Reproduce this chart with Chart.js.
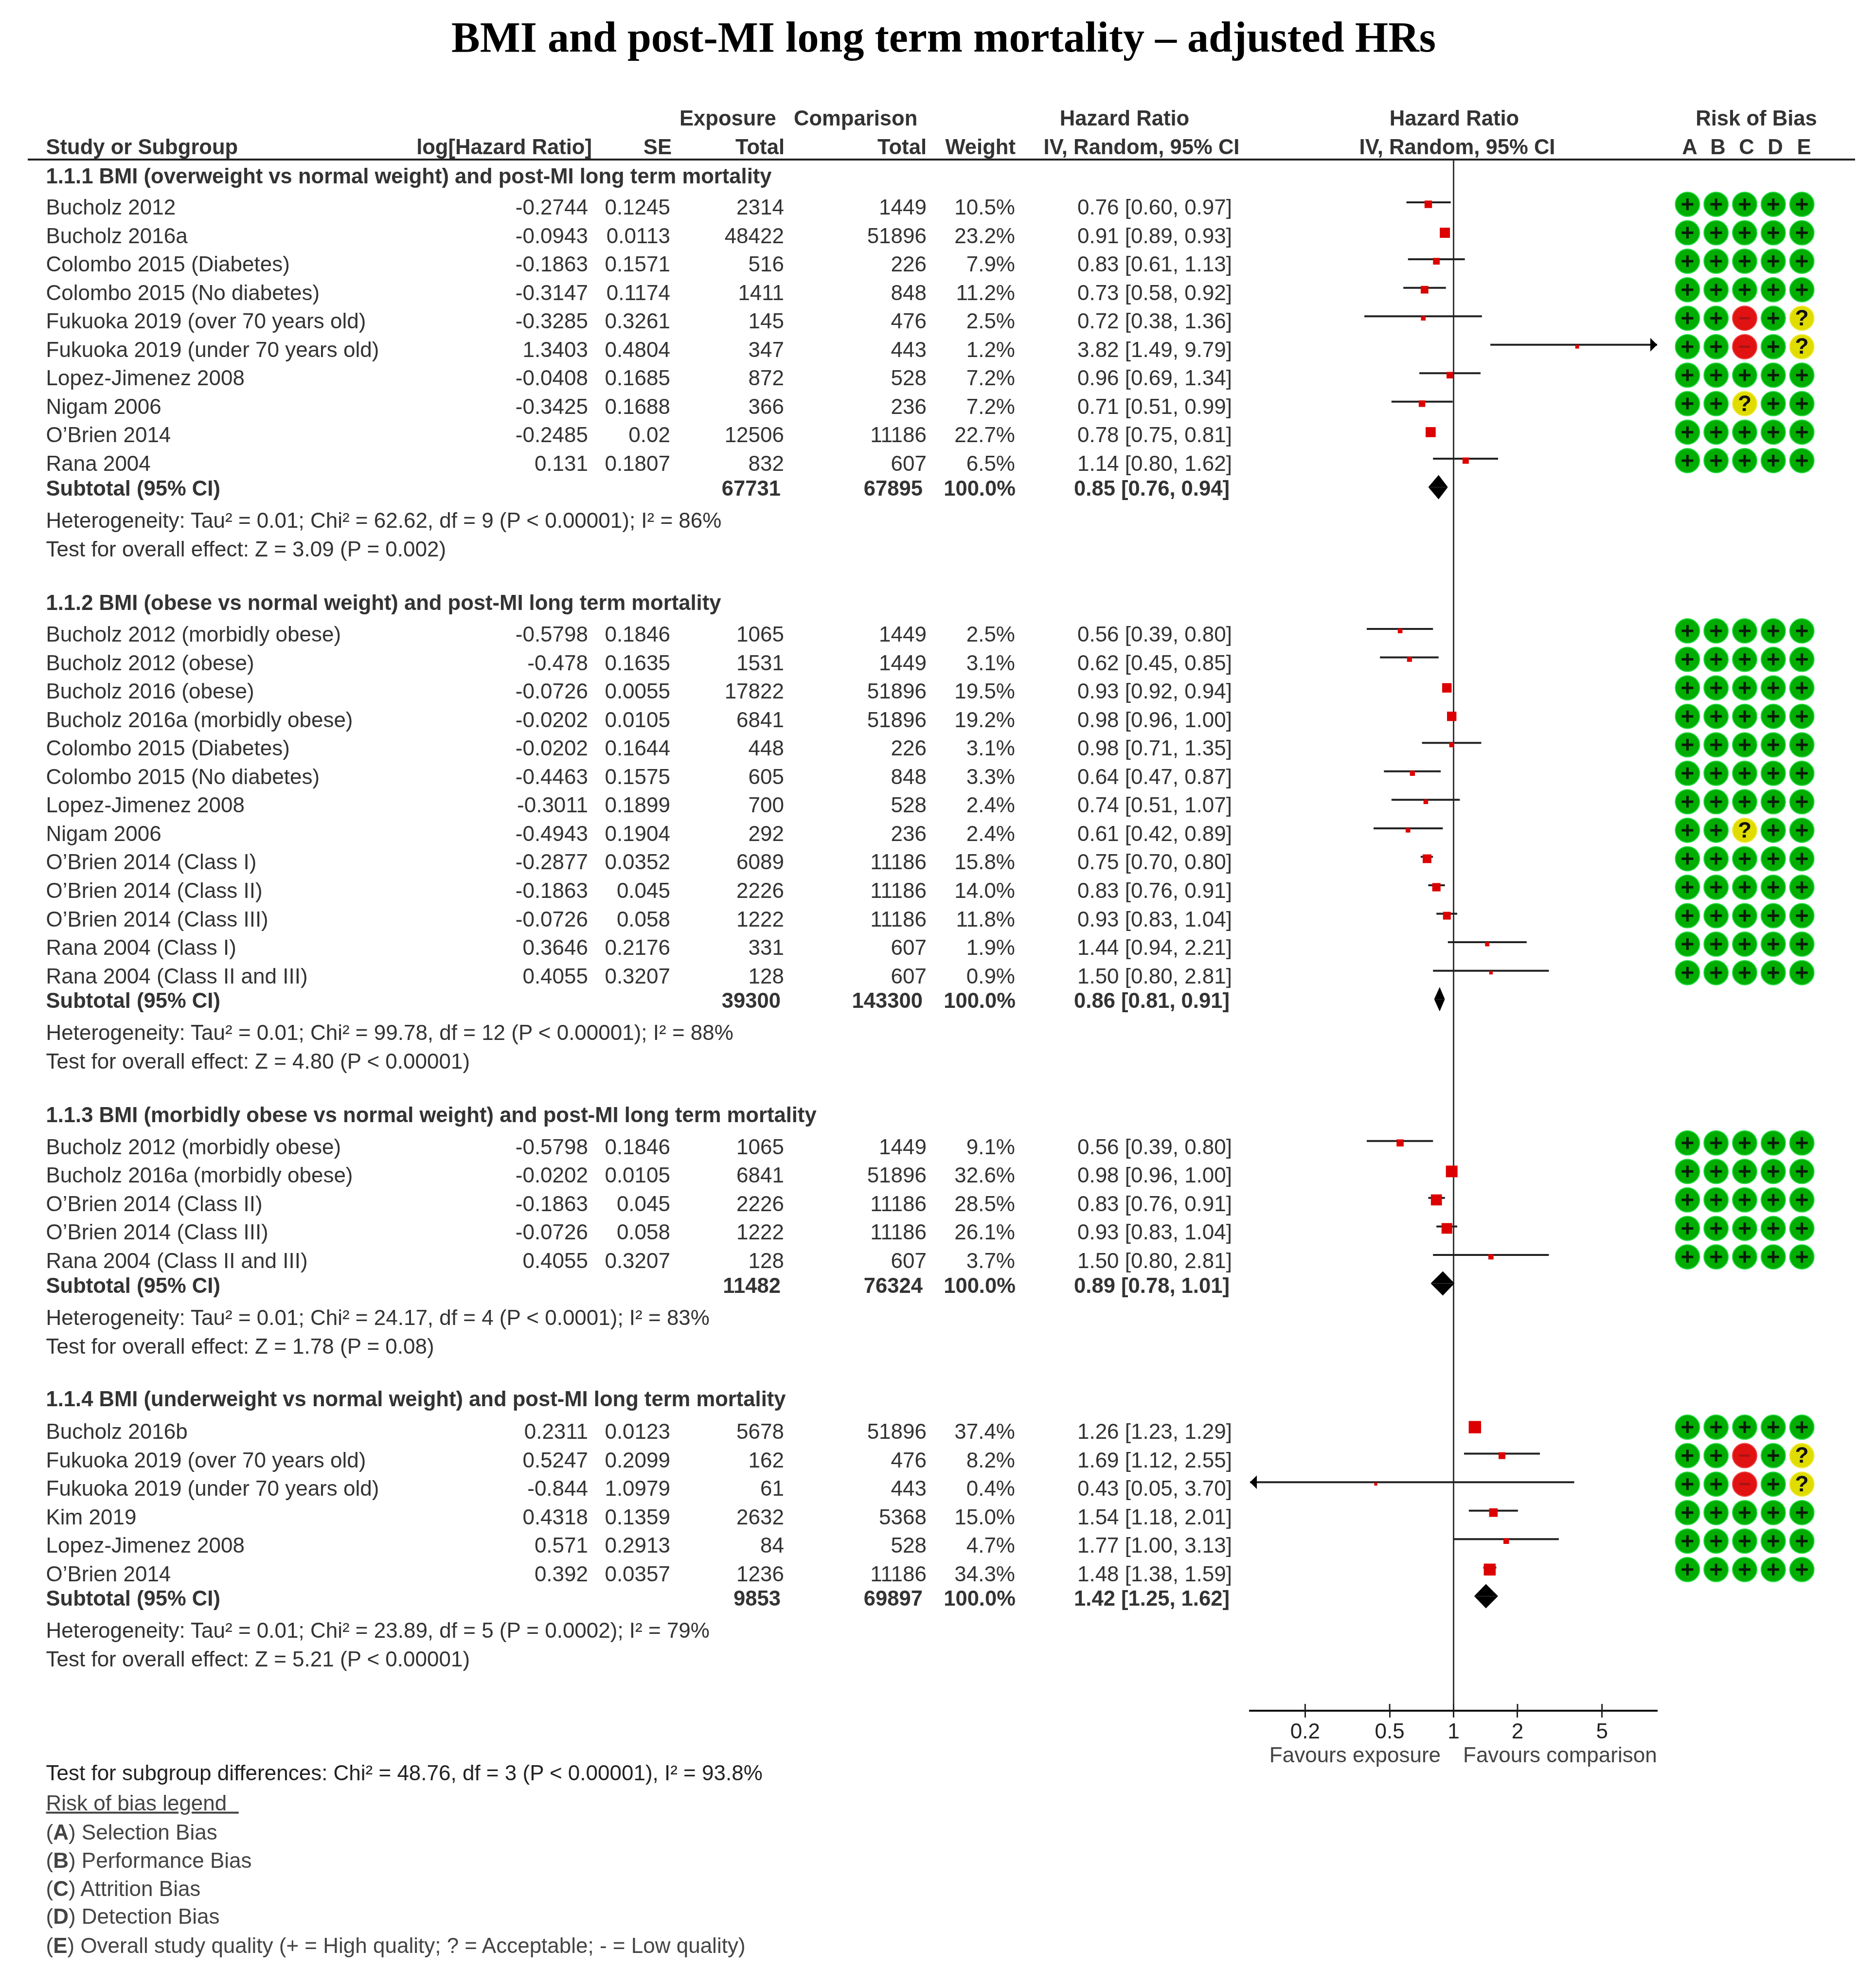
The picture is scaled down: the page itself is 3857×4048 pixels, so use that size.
<!DOCTYPE html>
<html>
<head>
<meta charset="utf-8">
<title>BMI and post-MI long term mortality</title>
<script src="https://cdn.jsdelivr.net/npm/chart.js@4/dist/chart.umd.min.js"></script>
<style>
    html, body { margin: 0; padding: 0; background: #fff; }
    #page { position: relative; width: 3857px; height: 4048px; overflow: hidden; font-family: "Liberation Sans", Arial, sans-serif; }
    #forest, #rob { position: absolute; display: block; }
    #forest { left: 0; top: 0; }
    #rob { left: 3440px; top: 328px; }
    .t { position: absolute; white-space: pre; transform: translateY(-50%); font-size: 44px; line-height: 1.2; color: #333; }
    .b { font-weight: bold; font-size: 43.6px; }
</style>
</head>
<body>
<div id="page">
    <canvas id="forest" width="3857" height="4048"></canvas>
    <canvas id="rob" width="294" height="3189"></canvas>
</div>
<script>
// table data, one list per column, studies run through the four subgroups in order
const studies = [
    'Bucholz 2012', 'Bucholz 2016a', 'Colombo 2015 (Diabetes)', 'Colombo 2015 (No diabetes)', 'Fukuoka 2019 (over 70 years old)',
    'Fukuoka 2019 (under 70 years old)', 'Lopez-Jimenez 2008', 'Nigam 2006', 'O’Brien 2014', 'Rana 2004',
    'Bucholz 2012 (morbidly obese)', 'Bucholz 2012 (obese)', 'Bucholz 2016 (obese)', 'Bucholz 2016a (morbidly obese)', 'Colombo 2015 (Diabetes)',
    'Colombo 2015 (No diabetes)', 'Lopez-Jimenez 2008', 'Nigam 2006', 'O’Brien 2014 (Class I)', 'O’Brien 2014 (Class II)',
    'O’Brien 2014 (Class III)', 'Rana 2004 (Class I)', 'Rana 2004 (Class II and III)',
    'Bucholz 2012 (morbidly obese)', 'Bucholz 2016a (morbidly obese)', 'O’Brien 2014 (Class II)', 'O’Brien 2014 (Class III)', 'Rana 2004 (Class II and III)',
    'Bucholz 2016b', 'Fukuoka 2019 (over 70 years old)', 'Fukuoka 2019 (under 70 years old)', 'Kim 2019', 'Lopez-Jimenez 2008', 'O’Brien 2014'
];
const logHr = [
    -0.2744, -0.0943, -0.1863, -0.3147, -0.3285, 1.3403, -0.0408, -0.3425, -0.2485, 0.131,
    -0.5798, -0.478, -0.0726, -0.0202, -0.0202, -0.4463, -0.3011, -0.4943, -0.2877, -0.1863, -0.0726, 0.3646, 0.4055,
    -0.5798, -0.0202, -0.1863, -0.0726, 0.4055,
    0.2311, 0.5247, -0.844, 0.4318, 0.571, 0.392
];
const se = [
    0.1245, 0.0113, 0.1571, 0.1174, 0.3261, 0.4804, 0.1685, 0.1688, 0.02, 0.1807,
    0.1846, 0.1635, 0.0055, 0.0105, 0.1644, 0.1575, 0.1899, 0.1904, 0.0352, 0.045, 0.058, 0.2176, 0.3207,
    0.1846, 0.0105, 0.045, 0.058, 0.3207,
    0.0123, 0.2099, 1.0979, 0.1359, 0.2913, 0.0357
];
const exposureTotal = [
    2314, 48422, 516, 1411, 145, 347, 872, 366, 12506, 832,
    1065, 1531, 17822, 6841, 448, 605, 700, 292, 6089, 2226, 1222, 331, 128,
    1065, 6841, 2226, 1222, 128,
    5678, 162, 61, 2632, 84, 1236
];
const comparisonTotal = [
    1449, 51896, 226, 848, 476, 443, 528, 236, 11186, 607,
    1449, 1449, 51896, 51896, 226, 848, 528, 236, 11186, 11186, 11186, 607, 607,
    1449, 51896, 11186, 11186, 607,
    51896, 476, 443, 5368, 528, 11186
];
const weight = [
    10.5, 23.2, 7.9, 11.2, 2.5, 1.2, 7.2, 7.2, 22.7, 6.5,
    2.5, 3.1, 19.5, 19.2, 3.1, 3.3, 2.4, 2.4, 15.8, 14.0, 11.8, 1.9, 0.9,
    9.1, 32.6, 28.5, 26.1, 3.7,
    37.4, 8.2, 0.4, 15.0, 4.7, 34.3
];
const hr = [
    0.76, 0.91, 0.83, 0.73, 0.72, 3.82, 0.96, 0.71, 0.78, 1.14,
    0.56, 0.62, 0.93, 0.98, 0.98, 0.64, 0.74, 0.61, 0.75, 0.83, 0.93, 1.44, 1.50,
    0.56, 0.98, 0.83, 0.93, 1.50,
    1.26, 1.69, 0.43, 1.54, 1.77, 1.48
];
const ciLow = [
    0.60, 0.89, 0.61, 0.58, 0.38, 1.49, 0.69, 0.51, 0.75, 0.80,
    0.39, 0.45, 0.92, 0.96, 0.71, 0.47, 0.51, 0.42, 0.70, 0.76, 0.83, 0.94, 0.80,
    0.39, 0.96, 0.76, 0.83, 0.80,
    1.23, 1.12, 0.05, 1.18, 1.00, 1.38
];
const ciHigh = [
    0.97, 0.93, 1.13, 0.92, 1.36, 9.79, 1.34, 0.99, 0.81, 1.62,
    0.80, 0.85, 0.94, 1.00, 1.35, 0.87, 1.07, 0.89, 0.80, 0.91, 1.04, 2.21, 2.81,
    0.80, 1.00, 0.91, 1.04, 2.81,
    1.29, 2.55, 3.70, 2.01, 3.13, 1.59
];
const robColumns = ['A', 'B', 'C', 'D', 'E'];
const robRows = [
    '+++++', '+++++', '+++++', '+++++', '++-+?', '++-+?', '+++++', '++?++', '+++++', '+++++',
    '+++++', '+++++', '+++++', '+++++', '+++++', '+++++', '+++++', '++?++', '+++++', '+++++', '+++++', '+++++', '+++++',
    '+++++', '+++++', '+++++', '+++++', '+++++',
    '+++++', '++-+?', '++-+?', '+++++', '+++++', '+++++'
];

// subgroups
const groupTitles = [
    '1.1.1 BMI (overweight vs normal weight) and post-MI long term mortality',
    '1.1.2 BMI (obese vs normal weight) and post-MI long term mortality',
    '1.1.3 BMI (morbidly obese vs normal weight) and post-MI long term mortality',
    '1.1.4 BMI (underweight vs normal weight) and post-MI long term mortality'
];
const groupSizes = [10, 13, 5, 6];
const subExposure = [67731, 39300, 11482, 9853];
const subComparison = [67895, 143300, 76324, 69897];
const subHr = [0.85, 0.86, 0.89, 1.42];
const subLow = [0.76, 0.81, 0.78, 1.25];
const subHigh = [0.94, 0.91, 1.01, 1.62];
const heterogeneity = [
    'Heterogeneity: Tau² = 0.01; Chi² = 62.62, df = 9 (P < 0.00001); I² = 86%',
    'Heterogeneity: Tau² = 0.01; Chi² = 99.78, df = 12 (P < 0.00001); I² = 88%',
    'Heterogeneity: Tau² = 0.01; Chi² = 24.17, df = 4 (P < 0.0001); I² = 83%',
    'Heterogeneity: Tau² = 0.01; Chi² = 23.89, df = 5 (P = 0.0002); I² = 79%'
];
const overallEffect = [
    'Test for overall effect: Z = 3.09 (P = 0.002)',
    'Test for overall effect: Z = 4.80 (P < 0.00001)',
    'Test for overall effect: Z = 1.78 (P = 0.08)',
    'Test for overall effect: Z = 5.21 (P < 0.00001)'
];

const xTicks = [0.2, 0.5, 1, 2, 5];
const xMin = 0.11;
const xMax = 9.09;

// page layout, in page pixels
const WIDTH = 3857;
const LEFT = 94.5;
const COL = { logHr: 1209, se: 1378, exp: 1612, comp: 1905, weight: 2087, hr: 2533 };
const PLOT = { left: 2570, right: 3407, top: 328, bottom: 3517 };

const page = document.getElementById('page');

function addText(str, x, y, align, opts) {
    opts = opts || {};
    const el = document.createElement('div');
    el.className = 't' + (opts.bold ? ' b' : '');
    if (opts.html) el.innerHTML = str; else el.textContent = str;
    if (align === 'right') el.style.right = (WIDTH - x) + 'px';
    else if (align === 'center') { el.style.left = x + 'px'; el.style.transform = 'translate(-50%, -50%)'; }
    else el.style.left = x + 'px';
    el.style.top = y + 'px';
    if (opts.color) el.style.color = opts.color;
    if (opts.size) el.style.fontSize = opts.size + 'px';
    if (opts.family) el.style.fontFamily = opts.family;
    page.appendChild(el);
}

// title and column heads
addText('BMI and post-MI long term mortality – adjusted HRs', 1940, 77, 'center', { bold: true, color: '#000', size: 88, family: '"Liberation Serif", serif' });
addText('Exposure', 1397, 243, 'left', { bold: true });
addText('Comparison', 1632, 243, 'left', { bold: true });
addText('Hazard Ratio', 2312, 243, 'center', { bold: true });
addText('Hazard Ratio', 2990, 243, 'center', { bold: true });
addText('Risk of Bias', 3611, 243, 'center', { bold: true });
addText('Study or Subgroup', LEFT, 302, 'left', { bold: true });
addText('log[Hazard Ratio]', 1217, 302, 'right', { bold: true });
addText('SE', 1381, 302, 'right', { bold: true });
addText('Total', 1613, 302, 'right', { bold: true });
addText('Total', 1905, 302, 'right', { bold: true });
addText('Weight', 2088, 302, 'right', { bold: true });
addText('IV, Random, 95% CI', 2347, 302, 'center', { bold: true });
addText('IV, Random, 95% CI', 2996, 302, 'center', { bold: true });
const robHeadX = [3474, 3532, 3591, 3650, 3709];
robColumns.forEach((c, i) => addText(c, robHeadX[i], 302, 'center', { bold: true }));

const rule = document.createElement('div');
rule.style.cssText = 'position:absolute;left:57px;width:3757px;top:326px;height:4px;background:#222';
page.appendChild(rule);

// rows: work out y per row, write the table as we go
const rowY = [];
const subY = [];
let y = 362;
let idx = 0;
groupTitles.forEach((title, g) => {
    // text drifts down a little against the marks further down the page
    const shift = -2 + g;
    addText(title, LEFT, y, 'left', { bold: true });
    y += 66;
    for (let n = 0; n < groupSizes[g]; n++) {
        rowY.push(y);
        const ty = y + shift;
        addText(studies[idx], LEFT, ty);
        addText(String(logHr[idx]), COL.logHr, ty, 'right');
        addText(String(se[idx]), COL.se, ty, 'right');
        addText(String(exposureTotal[idx]), COL.exp, ty, 'right');
        addText(String(comparisonTotal[idx]), COL.comp, ty, 'right');
        addText(weight[idx].toFixed(1) + '%', COL.weight, ty, 'right');
        addText(`${hr[idx].toFixed(2)} [${ciLow[idx].toFixed(2)}, ${ciHigh[idx].toFixed(2)}]`, COL.hr, ty, 'right');
        idx++;
        if (n < groupSizes[g] - 1) y += 58.55;
    }
    y += 49.6;
    subY.push(y);
    addText('Subtotal (95% CI)', LEFT, y + shift + 1, 'left', { bold: true });
    addText(String(subExposure[g]), 1605, y + shift + 1, 'right', { bold: true });
    addText(String(subComparison[g]), 1897, y + shift + 1, 'right', { bold: true });
    addText('100.0%', 2088, y + shift + 1, 'right', { bold: true });
    addText(`${subHr[g].toFixed(2)} [${subLow[g].toFixed(2)}, ${subHigh[g].toFixed(2)}]`, 2528, y + shift + 1, 'right', { bold: true });
    y += 66;
    addText(heterogeneity[g], LEFT, y + shift + 1);
    y += 59;
    addText(overallEffect[g], LEFT, y + shift + 1);
    y += 109.5;
});

// footer
addText('Favours exposure', 2962, 3608, 'right', { color: '#444' });
addText('Favours comparison', 3008, 3608, 'left', { color: '#444' });
addText('Test for subgroup differences: Chi² = 48.76, df = 3 (P < 0.00001), I² = 93.8%', LEFT, 3645, 'left', { color: '#222' });
addText('<u>Risk of bias legend\u00a0\u00a0</u>', LEFT, 3707, 'left', { html: true, color: '#444' });
addText('(<b>A</b>) Selection Bias', LEFT, 3767, 'left', { html: true, color: '#444' });
addText('(<b>B</b>) Performance Bias', LEFT, 3825, 'left', { html: true, color: '#444' });
addText('(<b>C</b>) Attrition Bias', LEFT, 3883, 'left', { html: true, color: '#444' });
addText('(<b>D</b>) Detection Bias', LEFT, 3940, 'left', { html: true, color: '#444' });
addText('(<b>E</b>) Overall study quality (+ = High quality; ? = Acceptable; - = Low quality)', LEFT, 4000, 'left', { html: true, color: '#444' });

// forest plot, earlier datasets are painted on top of later ones
const LINE_COLOR = '#222';
const forestDatasets = [];

forestDatasets.push({
    data: rowY.map((ry, i) => ({ x: hr[i], y: ry - 8 })),
    showLine: false,
    pointStyle: 'rect',
    backgroundColor: '#dc0000',
    borderWidth: 0,
    pointBorderWidth: 0,
    // box area goes with weight
    pointRadius: weight.map(w => (4 + 3.5 * Math.sqrt(w)) / Math.SQRT2)
});

subY.forEach((sy, g) => {
    const mid = sy - 3;
    [-25, 25].forEach(h => {
        forestDatasets.push({
            data: [{ x: subLow[g], y: mid }, { x: subHr[g], y: mid + h }, { x: subHigh[g], y: mid }],
            showLine: true, borderWidth: 0, pointRadius: 0,
            backgroundColor: '#000',
            fill: { target: { value: mid } }
        });
    });
});

rowY.forEach((ry, i) => {
    forestDatasets.push({
        data: [{ x: ciLow[i], y: ry - 12 }, { x: ciHigh[i], y: ry - 12 }],
        showLine: true, borderColor: LINE_COLOR, borderWidth: 4, pointRadius: 0
    });
});

forestDatasets.push({
    data: [{ x: 1, y: PLOT.top }, { x: 1, y: PLOT.bottom }],
    showLine: true, borderColor: '#333', borderWidth: 3, pointRadius: 0
});

// arrows for clipped CIs, and the upper half of the axis ticks
const forestExtras = {
    id: 'forestExtras',
    afterDatasetsDraw(chart) {
        const { ctx, scales } = chart;
        ctx.save();
        ctx.fillStyle = '#000';
        rowY.forEach((ry, i) => {
            const py = scales.y.getPixelForValue(ry - 12);
            if (ciHigh[i] > xMax) {
                const tip = scales.x.getPixelForValue(xMax);
                ctx.beginPath();
                ctx.moveTo(tip, py);
                ctx.lineTo(tip - 14, py - 14);
                ctx.lineTo(tip - 14, py + 14);
                ctx.fill();
            }
            if (ciLow[i] < xMin) {
                const tip = scales.x.getPixelForValue(xMin);
                ctx.beginPath();
                ctx.moveTo(tip, py);
                ctx.lineTo(tip + 14, py - 14);
                ctx.lineTo(tip + 14, py + 14);
                ctx.fill();
            }
        });
        ctx.strokeStyle = LINE_COLOR;
        ctx.lineWidth = 3;
        xTicks.forEach(v => {
            const px = scales.x.getPixelForValue(v);
            ctx.beginPath();
            ctx.moveTo(px, PLOT.bottom - 14);
            ctx.lineTo(px, PLOT.bottom);
            ctx.stroke();
        });
        ctx.restore();
    }
};

const AXIS_HEIGHT = 70;
new Chart(document.getElementById('forest'), {
    type: 'scatter',
    data: { datasets: forestDatasets },
    plugins: [forestExtras],
    options: {
        responsive: false,
        animation: false,
        events: [],
        layout: {
            autoPadding: false,
            padding: {
                left: PLOT.left,
                right: WIDTH - PLOT.right,
                top: PLOT.top,
                bottom: 4048 - PLOT.bottom - AXIS_HEIGHT
            }
        },
        plugins: { legend: { display: false }, tooltip: { enabled: false }, title: { display: false } },
        scales: {
            x: {
                type: 'logarithmic',
                min: xMin,
                max: xMax,
                afterBuildTicks(axis) { axis.ticks = xTicks.map(value => ({ value })); },
                afterFit(axis) { axis.height = AXIS_HEIGHT; },
                border: { display: true, color: '#111', width: 4 },
                grid: { drawOnChartArea: false, drawTicks: true, tickLength: 14, tickWidth: 3, tickColor: LINE_COLOR },
                ticks: {
                    autoSkip: false, maxRotation: 0, padding: 4, color: '#222',
                    font: { family: '"Liberation Sans"', size: 44 },
                    callback: value => String(value)
                }
            },
            y: { type: 'linear', display: false, reverse: true, min: PLOT.top, max: PLOT.bottom }
        }
    }
});

// risk of bias grid
const robMarks = { '+': [], '-': [], '?': [] };
rowY.forEach((ry, i) => {
    robColumns.forEach((col, c) => {
        robMarks[robRows[i][c]].push({ x: col, y: ry - 8 });
    });
});

const robQuestionMarks = {
    id: 'robQuestionMarks',
    afterDatasetsDraw(chart) {
        const { ctx, scales } = chart;
        ctx.save();
        ctx.fillStyle = '#111';
        ctx.font = 'bold 46px "Liberation Sans"';
        ctx.textAlign = 'center';
        ctx.textBaseline = 'middle';
        robMarks['?'].forEach(p => {
            ctx.fillText('?', scales.x.getPixelForValue(p.x), scales.y.getPixelForValue(p.y) + 2);
        });
        ctx.restore();
    }
};

function robCircle(points, fill, edge) {
    return { data: points, backgroundColor: fill, borderColor: edge, pointBorderWidth: 2, pointRadius: 25, pointStyle: 'circle', showLine: false };
}

new Chart(document.getElementById('rob'), {
    type: 'line',
    data: {
        labels: robColumns,
        datasets: [
            { data: robMarks['+'], pointStyle: 'cross', pointRadius: 12, pointBorderColor: '#0a1a0a', pointBorderWidth: 5, showLine: false },
            { data: robMarks['-'], pointStyle: 'line', pointRadius: 11, pointBorderColor: '#a01515', pointBorderWidth: 4, showLine: false },
            robCircle(robMarks['+'], '#00ad00', '#22dd44'),
            robCircle(robMarks['-'], '#e01212', '#f04040'),
            robCircle(robMarks['?'], '#e0dc00', '#efec40')
        ]
    },
    plugins: [robQuestionMarks],
    options: {
        responsive: false,
        animation: false,
        events: [],
        layout: { autoPadding: false, padding: 0 },
        plugins: { legend: { display: false }, tooltip: { enabled: false } },
        scales: {
            x: { type: 'category', labels: robColumns, offset: true, display: false },
            y: { type: 'linear', display: false, reverse: true, min: PLOT.top, max: PLOT.bottom }
        }
    }
});
</script>
</body>
</html>
